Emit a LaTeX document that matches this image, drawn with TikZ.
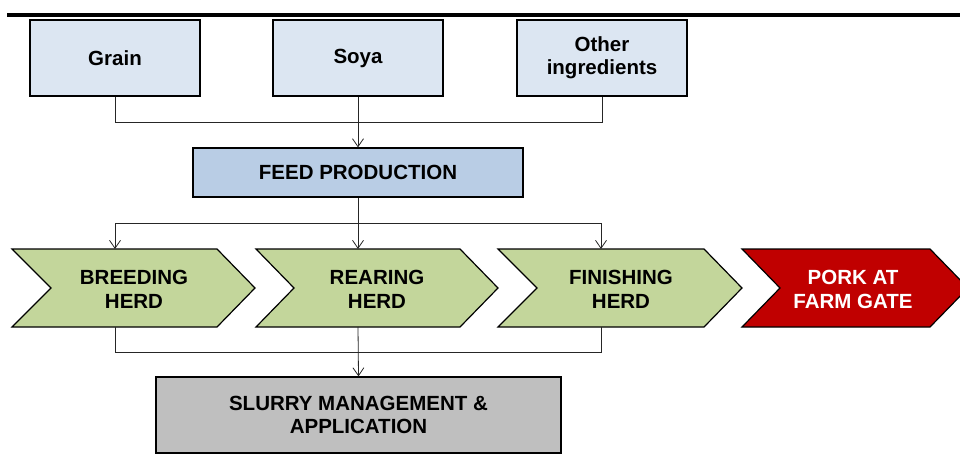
\documentclass[tikz,border=0pt]{standalone}
\usepackage{fontspec}
\setmainfont{Liberation Sans}
\usetikzlibrary{arrows.meta}
\definecolor{lblue}{HTML}{DCE6F2}
\definecolor{fblue}{HTML}{B9CDE5}
\definecolor{hgreen}{HTML}{C3D69B}
\definecolor{pred}{HTML}{C00000}
\definecolor{sgrey}{HTML}{BFBFBF}
\begin{document}
\begin{tikzpicture}[x=1pt,y=-1pt,
 box/.style={draw=black, line width=1.2pt, font=\bfseries\fontsize{20.5}{23}\selectfont, align=center, inner sep=0pt},
 conn/.style={line width=0.8pt, draw=black!85},
 arr/.style={conn, -{Straight Barb[length=8pt,width=11pt]}},
 chev/.style={draw=black, line width=1.2pt},
 lbl/.style={font=\bfseries\fontsize{20.5}{24}\selectfont, align=center, inner sep=0pt}]
\useasboundingbox (0,0) rectangle (960,457);
\draw[line width=3.5pt] (7,15) -- (960,15);
% inputs
\node[box, fill=lblue, minimum width=170pt, minimum height=76pt] (grain) at (115,58) {Grain};
\node[box, fill=lblue, minimum width=170pt, minimum height=76pt] (soya) at (358,58) {Soya};
\node[box, fill=lblue, minimum width=170pt, minimum height=76pt] (other) at (602,58) {Other\\ingredients};
\node[box, fill=fblue, minimum width=330pt, minimum height=49pt] (feed) at (358,172.5) {FEED PRODUCTION};
\node[box, fill=sgrey, minimum width=405pt, minimum height=76pt] (slurry) at (358.5,415) {SLURRY MANAGEMENT \&\\APPLICATION};
% chevrons
\draw[chev, fill=hgreen] (12,249) -- (217,249) -- (255,288) -- (217,327) -- (12,327) -- (51,288) -- cycle;
\draw[chev, fill=hgreen] (256,249) -- (460,249) -- (498,288) -- (460,327) -- (256,327) -- (294,288) -- cycle;
\draw[chev, fill=hgreen] (498,249) -- (704,249) -- (742,288) -- (704,327) -- (498,327) -- (537,288) -- cycle;
\draw[chev, fill=pred] (742,249) -- (930,249) -- (968,288) -- (930,327) -- (742,327) -- (780,288) -- cycle;
\node[lbl] (breed) at (134,289) {BREEDING\\HERD};
\node[lbl] (rear) at (377,289) {REARING\\HERD};
\node[lbl] (finish) at (621,289) {FINISHING\\HERD};
\node[lbl, text=white] (pork) at (853,289) {PORK AT\\FARM GATE};
\coordinate (bt) at (115,249);
\coordinate (rt) at (358,249);
\coordinate (ft) at (601,249);
\coordinate (bb) at (115,327);
\coordinate (rb) at (358,327);
\coordinate (fb) at (601,327);
\coordinate (j1) at (358,122);
\coordinate (j2) at (358,223);
\coordinate (j3) at (358,352);
% connectors
\draw[conn] (grain.south) |- (j1);
\draw[conn] (other.south) |- (j1);
\draw[arr] (soya.south) -- (feed.north);
\draw[arr] (feed.south) -- (rt);
\draw[arr] (j2) -| (bt);
\draw[arr] (j2) -| (ft);
\draw[conn] (bb) |- (j3);
\draw[conn] (fb) |- (j3);
\draw[arr] (rb) -- (slurry.north);
\end{tikzpicture}
\end{document}
